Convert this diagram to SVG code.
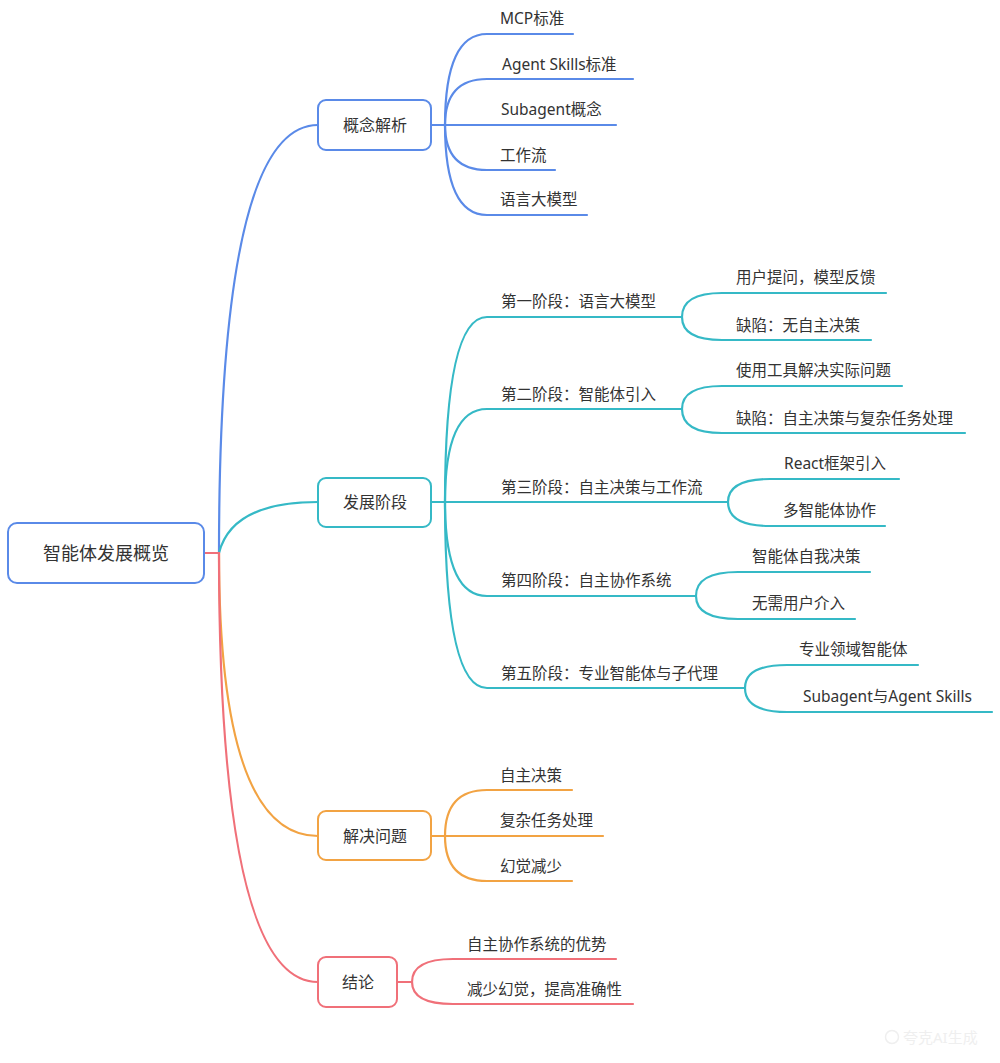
<svg xmlns="http://www.w3.org/2000/svg" width="1000" height="1063" viewBox="0 0 1000 1063">
<style>
text{font-family:"Noto Sans","Noto Sans CJK SC",sans-serif;fill:#333;dominant-baseline:central}
.t15{font-size:15.5px}
.t16{font-size:16px;text-anchor:middle}
.t18{font-size:18px;text-anchor:middle}
.l{fill:none;stroke-width:2.2;stroke-linecap:round}
.b{stroke:#5a8ae8}.c{stroke:#35b9c6}.o{stroke:#f2a343}.r{stroke:#f07079}
.box{fill:#fff;stroke-width:2}
.wm{font-size:15px;fill:#efefef}
</style>
<rect width="1000" height="1063" fill="#fff"/>
<g id="connectors">
<path class="l b" d="M219,553 Q219,125 318,125"/>
<path class="l c" d="M219,553 Q232,502 318,502"/>
<path class="l o" d="M219,553 Q219,836 318,836"/>
<path class="l r" d="M219,553 Q219,982 318,982"/>
<path class="l r" d="M204,553 L219,553"/>
<path class="l b" d="M431,125 L445,125"/>
<path class="l b" d="M445,125 Q445,34 487,34 L573,34"/>
<path class="l b" d="M445,125 Q445,79 487,79 L633,79"/>
<path class="l b" d="M445,125 L616,125"/>
<path class="l b" d="M445,125 Q445,170 487,170 L555,170"/>
<path class="l b" d="M445,125 Q445,215 487,215 L587,215"/>
<path class="l c" d="M431,502 L445,502"/>
<path class="l c" d="M445,502 Q445,317 487,317 L682,317"/>
<path class="l c" d="M445,502 Q445,409 487,409 L682,409"/>
<path class="l c" d="M445,502 L728,502"/>
<path class="l c" d="M445,502 Q445,596 487,596 L696,596"/>
<path class="l c" d="M445,502 Q445,688 487,688 L745,688"/>
<path class="l c" d="M682,317 Q682,293 722,293 L886,293"/>
<path class="l c" d="M682,317 Q682,340 722,340 L871,340"/>
<path class="l c" d="M682,409 Q682,386 722,386 L902,386"/>
<path class="l c" d="M682,409 Q682,433 722,433 L965,433"/>
<path class="l c" d="M728,502 Q728,479 770,479 L899,479"/>
<path class="l c" d="M728,502 Q728,526 770,526 L885,526"/>
<path class="l c" d="M696,596 Q696,572 738,572 L870,572"/>
<path class="l c" d="M696,596 Q696,619 738,619 L855,619"/>
<path class="l c" d="M745,688 Q745,665 787,665 L918,665"/>
<path class="l c" d="M745,688 Q745,712 787,712 L992,712"/>
<path class="l o" d="M431,836 L445,836"/>
<path class="l o" d="M445,836 Q445,790 487,790 L572,790"/>
<path class="l o" d="M445,836 L603,836"/>
<path class="l o" d="M445,836 Q445,881 487,881 L572,881"/>
<path class="l r" d="M397,982 L412,982"/>
<path class="l r" d="M412,982 Q412,959 453,959 L616,959"/>
<path class="l r" d="M412,982 Q412,1004 453,1004 L633,1004"/>
</g>
<g id="root">
<rect class="box" x="8" y="523" width="196" height="60" rx="9" stroke="#5a8ae8"/>
<text class="t18" x="106" y="553">智能体发展概览</text>
</g>
<g id="n-concept">
<rect class="box" x="318" y="100" width="113" height="50" rx="8" stroke="#5a8ae8"/>
<text class="t16" x="375" y="125">概念解析</text>
</g>
<g id="n-stage">
<rect class="box" x="318" y="478" width="113" height="49" rx="8" stroke="#35b9c6"/>
<text class="t16" x="375" y="502">发展阶段</text>
</g>
<g id="n-solve">
<rect class="box" x="318" y="811" width="113" height="49" rx="8" stroke="#f2a343"/>
<text class="t16" x="375" y="836">解决问题</text>
</g>
<g id="n-concl">
<rect class="box" x="318" y="957" width="79" height="50" rx="8" stroke="#f07079"/>
<text class="t16" x="358" y="982">结论</text>
</g>
<g id="c1"><text class="t15" x="500" y="18">MCP标准</text></g>
<g id="c2"><text class="t15" x="502" y="64">Agent Skills标准</text></g>
<g id="c3"><text class="t15" x="501" y="109">Subagent概念</text></g>
<g id="c4"><text class="t15" x="500" y="155">工作流</text></g>
<g id="c5"><text class="t15" x="500" y="199">语言大模型</text></g>
<g id="s1"><text class="t15" x="501" y="301">第一阶段：语言大模型</text></g>
<g id="s1a"><text class="t15" x="736" y="277">用户提问，模型反馈</text></g>
<g id="s1b"><text class="t15" x="736" y="325">缺陷：无自主决策</text></g>
<g id="s2"><text class="t15" x="501" y="394">第二阶段：智能体引入</text></g>
<g id="s2a"><text class="t15" x="736" y="370">使用工具解决实际问题</text></g>
<g id="s2b"><text class="t15" x="736" y="418">缺陷：自主决策与复杂任务处理</text></g>
<g id="s3"><text class="t15" x="501" y="487">第三阶段：自主决策与工作流</text></g>
<g id="s3a"><text class="t15" x="784" y="463">React框架引入</text></g>
<g id="s3b"><text class="t15" x="783" y="510">多智能体协作</text></g>
<g id="s4"><text class="t15" x="501" y="580">第四阶段：自主协作系统</text></g>
<g id="s4a"><text class="t15" x="752" y="556">智能体自我决策</text></g>
<g id="s4b"><text class="t15" x="752" y="603">无需用户介入</text></g>
<g id="s5"><text class="t15" x="501" y="673">第五阶段：专业智能体与子代理</text></g>
<g id="s5a"><text class="t15" x="799" y="649">专业领域智能体</text></g>
<g id="s5b"><text class="t15" x="803" y="696">Subagent与Agent Skills</text></g>
<g id="p1"><text class="t15" x="500" y="775">自主决策</text></g>
<g id="p2"><text class="t15" x="500" y="820">复杂任务处理</text></g>
<g id="p3"><text class="t15" x="500" y="866">幻觉减少</text></g>
<g id="k1"><text class="t15" x="467" y="944">自主协作系统的优势</text></g>
<g id="k2"><text class="t15" x="467" y="989">减少幻觉，提高准确性</text></g>
<g id="watermark">
<circle cx="892" cy="1037" r="6.5" fill="none" stroke="#efefef" stroke-width="1.5"/>
<text class="wm" x="903" y="1037">夸克AI生成</text>
</g>
</svg>
